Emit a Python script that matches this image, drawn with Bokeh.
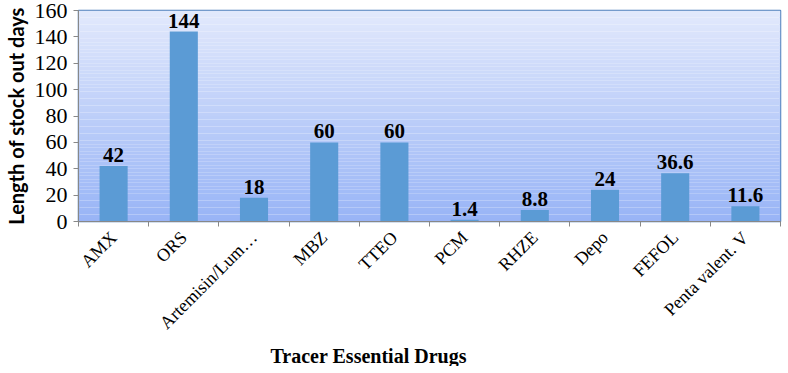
import math
from bokeh.plotting import figure
from bokeh.models import FixedTicker, Range1d, ColumnDataSource, Title
from bokeh.core.properties import value
from bokeh.embed import file_html
from bokeh.resources import INLINE

drugs = ["AMX", "ORS", "Artemisin/Lum…", "MBZ", "TTEO", "PCM", "RHZE", "Depo", "FEFOL", "Penta valent. V"]
stock_out_days = [42, 144, 18, 60, 60, 1.4, 8.8, 24, 36.6, 11.6]
value_labels = ["42", "144", "18", "60", "60", "1.4", "8.8", "24", "36.6", "11.6"]
y_ticks = [0, 20, 40, 60, 80, 100, 120, 140, 160]

y_min, y_max = 0, 160
n = len(drugs)
xs = list(range(n))

p = figure(frame_width=702, frame_height=211, output_backend="svg", toolbar_location=None,
           x_range=Range1d(-0.5, n - 0.5), y_range=Range1d(y_min, y_max),
           min_border_left=73, min_border_right=2, min_border_top=10, min_border_bottom=0)

# gradient background (light at top, darker blue at bottom)
steps = 60
top_c = (226, 233, 252)
bot_c = (152, 180, 246)
bots, tops, cols = [], [], []
for i in range(steps):
    b = y_min + (y_max - y_min) * i / steps
    t = y_min + (y_max - y_min) * (i + 1) / steps
    f = (i + 0.5) / steps
    c = tuple(int(round(bot_c[k] + (top_c[k] - bot_c[k]) * f)) for k in range(3))
    bots.append(b); tops.append(t); cols.append("#%02x%02x%02x" % c)
p.quad(left=-0.5, right=n - 0.5, bottom=bots, top=tops, fill_color=cols, line_color=None)

src = ColumnDataSource(dict(x=xs, y=stock_out_days, lab=value_labels))
p.vbar(x="x", top="y", width=0.4, source=src, fill_color="#5b9bd5", line_color=None)
p.text(x="x", y="y", text="lab", source=src, text_align="center", text_baseline="alphabetic",
       y_offset=-11, text_font=value("Liberation Serif"), text_font_style="bold",
       text_font_size="21px", text_color="black")

p.xgrid.visible = False
p.ygrid.visible = False
p.background_fill_color = None
p.outline_line_color = "#4f81bd"
p.outline_line_width = 1.5

# x axis
xa = p.xaxis[0]
xa.ticker = FixedTicker(ticks=xs, minor_ticks=[i - 0.5 for i in range(n + 1)])
xa.major_label_overrides = {i: d for i, d in enumerate(drugs)}
xa.major_label_orientation = math.pi / 4
xa.major_tick_out = 0
xa.major_tick_in = 0
xa.minor_tick_out = 5
xa.minor_tick_in = 0
xa.minor_tick_line_color = "#888888"
xa.axis_line_color = "#888888"
xa.major_label_text_font = "Liberation Serif"
xa.major_label_text_font_size = "18px"
xa.major_label_text_color = "black"
xa.major_label_standoff = 8

# y axis
ya = p.yaxis[0]
ya.ticker = FixedTicker(ticks=y_ticks)
ya.minor_tick_line_color = None
ya.major_tick_out = 5
ya.major_tick_in = 0
ya.major_tick_line_color = "#888888"
ya.axis_line_color = "#888888"
ya.major_label_text_font = "Liberation Serif"
ya.major_label_text_font_size = "22px"
ya.major_label_text_color = "black"
ya.major_label_standoff = 6
ya.axis_label = "Length of stock out days"
ya.axis_label_text_font = "Lato"
ya.axis_label_text_font_style = "bold"
ya.axis_label_text_font_size = "20px"
ya.axis_label_text_color = "black"
ya.axis_label_standoff = 4

p.add_layout(Title(text="Tracer Essential Drugs", align="left", offset=192, standoff=0,
                   text_font="Liberation Serif", text_font_style="bold",
                   text_font_size="20px", text_color="black"), "below")

open("out.html", "w").write(file_html(p, INLINE))
